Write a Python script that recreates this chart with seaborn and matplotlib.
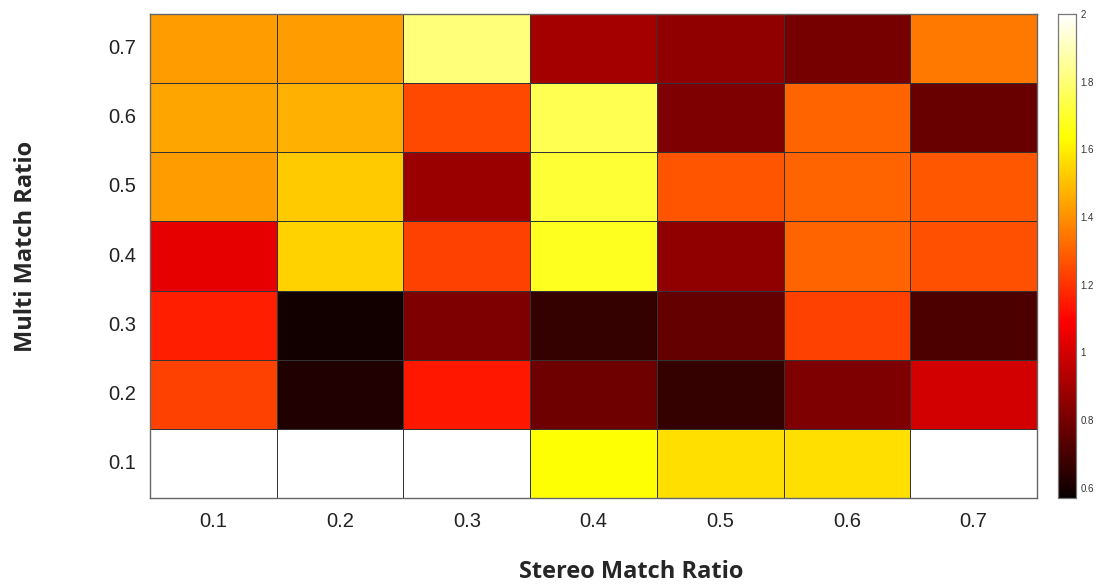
import numpy as np
import pandas as pd
import matplotlib
matplotlib.use("Agg")
import matplotlib.pyplot as plt
import seaborn as sns

stereo_ratio = ["0.1", "0.2", "0.3", "0.4", "0.5", "0.6", "0.7"]
multi_ratio = ["0.7", "0.6", "0.5", "0.4", "0.3", "0.2", "0.1"]

row_07 = [1.43, 1.43, 1.81, 0.90, 0.86, 0.80, 1.35]
row_06 = [1.445, 1.465, 1.25, 1.75, 0.82, 1.305, 0.775]
row_05 = [1.43, 1.52, 0.88, 1.71, 1.27, 1.305, 1.275]
row_04 = [1.04, 1.54, 1.23, 1.68, 0.86, 1.305, 1.26]
row_03 = [1.16, 0.59, 0.82, 0.66, 0.76, 1.23, 0.71]
row_02 = [1.23, 0.615, 1.145, 0.785, 0.66, 0.82, 1.00]
row_01 = [2.0, 2.0, 2.0, 1.64, 1.567, 1.567, 2.0]

cbar_ticks = [0.6, 0.8, 1.0, 1.2, 1.4, 1.6, 1.8, 2.0]
cbar_labels = ["0.6", "0.8", "1", "1.2", "1.4", "1.6", "1.8", "2"]

df = pd.DataFrame([row_07, row_06, row_05, row_04, row_03, row_02, row_01],
                  index=multi_ratio, columns=stereo_ratio)

sns.set_style("white")
plt.rcParams['font.family'] = ['Liberation Sans', 'DejaVu Sans']

fig = plt.figure(figsize=(11.08, 5.88), dpi=100)
ax = fig.add_axes([150/1108, 1-498/588, 887/1108, 484/588])
cax = fig.add_axes([1058/1108, 1-498/588, 18/1108, 484/588])

sns.heatmap(df, ax=ax, cbar_ax=cax, cmap="hot", vmin=0.57, vmax=2.0,
            linewidths=0.6, linecolor="#333333",
            cbar_kws={"ticks": cbar_ticks})

ax.tick_params(axis="both", length=0, labelsize=14.5, pad=10, labelcolor="#222222")
ax.set_yticklabels(multi_ratio, rotation=0)
ax.set_xticklabels(stereo_ratio, rotation=0)
for s in ax.spines.values():
    s.set_visible(True)
    s.set_color("#666666")
    s.set_linewidth(1.0)

ax.set_xlabel("Stereo Match Ratio", fontsize=17, fontweight="bold",
              family=["Open Sans", "DejaVu Sans"])
ax.xaxis.set_label_coords(0.542, -0.128)
ax.set_ylabel("Multi Match Ratio", fontsize=17, fontweight="bold",
              family=["Open Sans", "DejaVu Sans"])
ax.yaxis.set_label_coords(-0.126, 0.52)

cax.set_yticklabels(cbar_labels)
cax.tick_params(axis="y", which="both", direction="in", length=3, labelsize=7,
                colors="#333333", pad=3, left=True, right=True)
for s in cax.spines.values():
    s.set_visible(True)
    s.set_color("#777777")
    s.set_linewidth(0.8)

fig.savefig("out.png", dpi=100)
